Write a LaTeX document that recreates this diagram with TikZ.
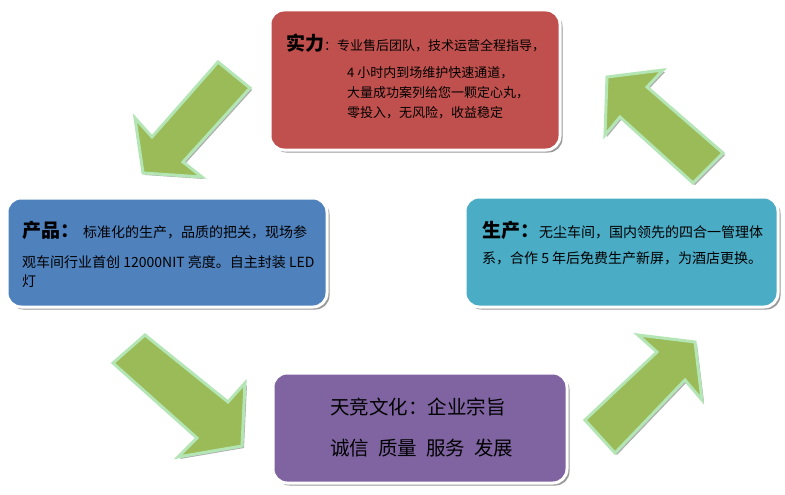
\documentclass[tikz,border=0pt]{standalone}
\usepackage{fontspec}
\setmainfont{Noto Sans CJK SC}
\usetikzlibrary{shadows}
\definecolor{redfill}{HTML}{C0504D}
\definecolor{bluefill}{HTML}{4F81BD}
\definecolor{tealfill}{HTML}{4BACC6}
\definecolor{purplefill}{HTML}{8064A2}
\definecolor{arrowfill}{HTML}{9BBB59}
\definecolor{arrowedge}{HTML}{B4E5B5}
\definecolor{shadowgray}{HTML}{9A9A9A}
\tikzset{
  boxshape/.style={draw=white, line width=3pt, rounded corners=14pt, inner sep=0pt,
    drop shadow={shadow xshift=2.5pt, shadow yshift=-2.5pt, fill=shadowgray, opacity=1}},
  blockarrow/.style={fill=arrowfill, draw=arrowedge, line width=3pt, line join=miter},
  arrowshadow/.style={fill=shadowgray!80},
  txt/.style={anchor=west, inner sep=0pt, text=black},
}
\newcommand{\bigt}{\fontsize{19}{22}\selectfont\bfseries}
\newcommand{\bodyt}{\fontsize{13}{15}\selectfont}
\newcommand{\midt}{\fontsize{14}{16}\selectfont}
\newcommand{\purt}{\fontsize{19.5}{22}\selectfont}
\begin{document}
\begin{tikzpicture}[x=1pt,y=-1pt]
\useasboundingbox[fill=white] (0,0) rectangle (785,495);

% boxes
\node[boxshape, fill=redfill, minimum width=290pt, minimum height=140pt] (red) at (415,80) {};
\node[boxshape, fill=bluefill, minimum width=320pt, minimum height=109pt] (blue) at (167,252.5) {};
\node[boxshape, fill=tealfill, minimum width=313pt, minimum height=110pt] (teal) at (621.5,252) {};
\node[boxshape, fill=purplefill, minimum width=294pt, minimum height=110pt] (purple) at (420,428) {};

% red box text
\node[txt] (r1) at (286,43) {{\bigt 实力}{\bodyt ：专业售后团队，技术运营全程指导，}};
\node[txt] (r2) at (347,73) {\bodyt 4 小时内到场维护快速通道，};
\node[txt] (r3) at (347,93) {\bodyt 大量成功案列给您一颗定心丸，};
\node[txt] (r4) at (347,113) {\bodyt 零投入，无风险，收益稳定};

% blue box text
\node[txt] (b1) at (22,230) {{\bigt 产品：}{\midt\hspace{4pt}标准化的生产，品质的把关，现场参}};
\node[txt] (b2) at (22,262) {\midt 观车间行业首创 12000NIT 亮度。自主封装 LED};
\node[txt] (b3) at (22,281) {\midt 灯};

% teal box text
\node[txt] (c1) at (482,230) {{\bigt 生产：}{\midt 无尘车间，国内领先的四合一管理体}};
\node[txt] (c2) at (482,258) {\midt 系，合作 5 年后免费生产新屏，为酒店更换。};

% purple box text
\node[txt] (p1) at (330,407) {\purt 天竞文化：企业宗旨};
\node[txt] (p2) at (330,448) {\purt 诚信\hspace{9pt}质量\hspace{9pt}服务\hspace{9pt}发展};

% arrows: shadows
\begin{scope}[shift={(2,2)}]
\fill[arrowshadow] (218,62) -- (250,88) -- (183,162) -- (202,177) -- (143,173) -- (135,118) -- (152,137) -- cycle;
\fill[arrowshadow] (723,153) -- (693,183) -- (620,117) -- (605,135) -- (607,77) -- (663,70) -- (647,87) -- cycle;
\fill[arrowshadow] (113,363) -- (145,335) -- (228,402) -- (245,383) -- (242,446) -- (178,457) -- (197,438) -- cycle;
\fill[arrowshadow] (585,420) -- (615,453) -- (685,380) -- (702,400) -- (695,342) -- (638,335) -- (657,352) -- cycle;
\end{scope}
% arrows
\draw[blockarrow] (218,62) -- (250,88) -- (183,162) -- (202,177) -- (143,173) -- (135,118) -- (152,137) -- cycle;
\draw[blockarrow] (723,153) -- (693,183) -- (620,117) -- (605,135) -- (607,77) -- (663,70) -- (647,87) -- cycle;
\draw[blockarrow] (113,363) -- (145,335) -- (228,402) -- (245,383) -- (242,446) -- (178,457) -- (197,438) -- cycle;
\draw[blockarrow] (585,420) -- (615,453) -- (685,380) -- (702,400) -- (695,342) -- (638,335) -- (657,352) -- cycle;
\end{tikzpicture}
\end{document}
